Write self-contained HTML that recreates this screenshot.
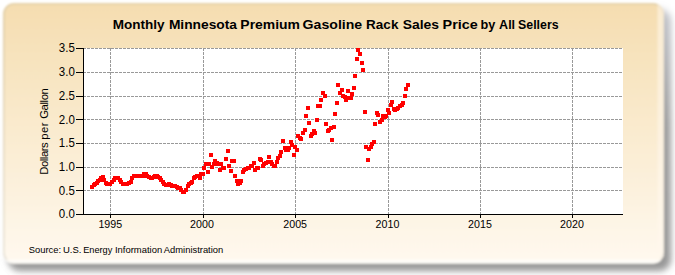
<!DOCTYPE html>
<html><head><meta charset="utf-8"><style>
html,body{margin:0;padding:0;background:#fff;width:675px;height:275px;overflow:hidden}
svg{position:absolute;left:0;top:0;display:block}
text{font-family:"Liberation Sans",sans-serif;fill:#000}
</style></head><body>
<svg width="675" height="275" viewBox="0 0 675 275">
<defs>
<linearGradient id="bg" x1="0" y1="0" x2="0" y2="1">
<stop offset="0" stop-color="#f5ddb0"/>
<stop offset="1" stop-color="#fff9ef"/>
</linearGradient>
<filter id="sh" x="-5%" y="-5%" width="110%" height="110%"><feGaussianBlur stdDeviation="3"/></filter>
<filter id="soft" x="-5%" y="-5%" width="110%" height="110%"><feGaussianBlur stdDeviation="1.1"/></filter>
<linearGradient id="shg" x1="0" y1="0" x2="0" y2="1">
<stop offset="0" stop-color="#c4c6cc"/>
<stop offset="0.45" stop-color="#9c9c9c"/>
<stop offset="1" stop-color="#979797"/>
</linearGradient>
<clipPath id="pclip"><rect x="3" y="3" width="661" height="260.5" rx="11"/></clipPath>
</defs>
<g filter="url(#soft)">
<rect x="8" y="9" width="663" height="262" rx="12" fill="url(#shg)" filter="url(#sh)"/>
<rect x="3" y="3" width="661" height="260.5" rx="11" fill="url(#bg)"/>
<rect x="4" y="4" width="659" height="258.5" rx="10" fill="none" stroke="#9c9a90" stroke-opacity="0.3" stroke-width="1.2"/>
<g clip-path="url(#pclip)">
<rect x="657.5" y="0" width="10" height="275" fill="#fff8ec" opacity="0.55"/>
<rect x="0" y="259.5" width="675" height="5" fill="#fffdf8" opacity="0.9"/>
</g>
</g>
<rect x="84" y="48" width="539" height="166" fill="#fff"/>
<g stroke="#999999" stroke-width="1" stroke-dasharray="3,1" stroke-dashoffset="1" fill="none">
<line x1="84" y1="48.5" x2="623" y2="48.5"/><line x1="84" y1="72.5" x2="623" y2="72.5"/><line x1="84" y1="96.5" x2="623" y2="96.5"/><line x1="84" y1="119.5" x2="623" y2="119.5"/><line x1="84" y1="143.5" x2="623" y2="143.5"/><line x1="84" y1="167.5" x2="623" y2="167.5"/><line x1="84" y1="190.5" x2="623" y2="190.5"/>
</g>
<g stroke="#999999" stroke-width="1" stroke-dasharray="3,1" fill="none">
<line x1="110.5" y1="48" x2="110.5" y2="214"/><line x1="203.5" y1="48" x2="203.5" y2="214"/><line x1="295.5" y1="48" x2="295.5" y2="214"/><line x1="388.5" y1="48" x2="388.5" y2="214"/><line x1="480.5" y1="48" x2="480.5" y2="214"/><line x1="572.5" y1="48" x2="572.5" y2="214"/>
</g>
<g fill="#000" shape-rendering="crispEdges">
<rect x="83" y="48" width="1" height="167"/>
<rect x="76" y="214" width="547" height="1"/>
<rect x="76" y="214" width="8" height="1"/><rect x="76" y="190" width="8" height="1"/><rect x="76" y="167" width="8" height="1"/><rect x="76" y="143" width="8" height="1"/><rect x="76" y="119" width="8" height="1"/><rect x="76" y="96" width="8" height="1"/><rect x="76" y="72" width="8" height="1"/><rect x="76" y="48" width="8" height="1"/>
<rect x="110" y="214" width="1" height="4"/><rect x="203" y="214" width="1" height="4"/><rect x="295" y="214" width="1" height="4"/><rect x="388" y="214" width="1" height="4"/><rect x="480" y="214" width="1" height="4"/><rect x="572" y="214" width="1" height="4"/>
</g>
<g font-size="12.8">
<text x="58.85" y="218.42" textLength="16.01" lengthAdjust="spacingAndGlyphs">0.0</text><text x="58.85" y="194.70" textLength="16.01" lengthAdjust="spacingAndGlyphs">0.5</text><text x="58.85" y="170.99" textLength="16.01" lengthAdjust="spacingAndGlyphs">1.0</text><text x="58.85" y="147.27" textLength="16.01" lengthAdjust="spacingAndGlyphs">1.5</text><text x="58.85" y="123.56" textLength="16.01" lengthAdjust="spacingAndGlyphs">2.0</text><text x="58.85" y="99.85" textLength="16.01" lengthAdjust="spacingAndGlyphs">2.5</text><text x="58.85" y="76.13" textLength="16.01" lengthAdjust="spacingAndGlyphs">3.0</text><text x="58.85" y="52.42" textLength="16.01" lengthAdjust="spacingAndGlyphs">3.5</text>
</g>
<g font-size="11.8">
<text x="98.42" y="227.5" textLength="23.75" lengthAdjust="spacingAndGlyphs">1995</text><text x="190.12" y="227.5" textLength="23.75" lengthAdjust="spacingAndGlyphs">2000</text><text x="283.32" y="227.5" textLength="23.75" lengthAdjust="spacingAndGlyphs">2005</text><text x="375.62" y="227.5" textLength="23.75" lengthAdjust="spacingAndGlyphs">2010</text><text x="468.12" y="227.5" textLength="23.75" lengthAdjust="spacingAndGlyphs">2015</text><text x="560.12" y="227.5" textLength="23.75" lengthAdjust="spacingAndGlyphs">2020</text>
</g>
<text x="112.72" y="29.0" font-size="13.6" font-weight="bold" textLength="51.88" lengthAdjust="spacingAndGlyphs">Monthly</text><text x="168.90" y="29.0" font-size="13.6" font-weight="bold" textLength="68.12" lengthAdjust="spacingAndGlyphs">Minnesota</text><text x="240.39" y="29.0" font-size="13.6" font-weight="bold" textLength="59.60" lengthAdjust="spacingAndGlyphs">Premium</text><text x="302.64" y="29.0" font-size="13.6" font-weight="bold" textLength="59.54" lengthAdjust="spacingAndGlyphs">Gasoline</text><text x="366.12" y="29.0" font-size="13.6" font-weight="bold" textLength="32.29" lengthAdjust="spacingAndGlyphs">Rack</text><text x="402.68" y="29.0" font-size="13.6" font-weight="bold" textLength="36.32" lengthAdjust="spacingAndGlyphs">Sales</text><text x="442.57" y="29.0" font-size="13.6" font-weight="bold" textLength="35.16" lengthAdjust="spacingAndGlyphs">Price</text><text x="480.47" y="29.0" font-size="13.6" font-weight="bold" textLength="14.81" lengthAdjust="spacingAndGlyphs">by</text><text x="499.09" y="29.0" font-size="13.6" font-weight="bold" textLength="16.03" lengthAdjust="spacingAndGlyphs">All</text><text x="518.03" y="29.0" font-size="13.6" font-weight="bold" textLength="40.57" lengthAdjust="spacingAndGlyphs">Sellers</text>
<g transform="translate(47.7,0) rotate(-90)"><text x="-174.80" y="0" font-size="11.3" font-weight="normal" textLength="32.55" lengthAdjust="spacing">Dollars</text><text x="-139.73" y="0" font-size="11.3" font-weight="normal" textLength="17.20" lengthAdjust="spacing">per</text><text x="-118.77" y="0" font-size="11.3" font-weight="normal" textLength="30.56" lengthAdjust="spacing">Gallon</text></g>
<text x="28.68" y="253.2" font-size="9.8" font-weight="normal" textLength="32.38" lengthAdjust="spacingAndGlyphs">Source:</text><text x="62.99" y="253.2" font-size="9.8" font-weight="normal" textLength="18.47" lengthAdjust="spacingAndGlyphs">U.S.</text><text x="83.16" y="253.2" font-size="9.8" font-weight="normal" textLength="29.17" lengthAdjust="spacingAndGlyphs">Energy</text><text x="114.95" y="253.2" font-size="9.8" font-weight="normal" textLength="47.19" lengthAdjust="spacingAndGlyphs">Information</text><text x="163.85" y="253.2" font-size="9.8" font-weight="normal" textLength="59.36" lengthAdjust="spacingAndGlyphs">Administration</text>
<g fill="#ff0000" shape-rendering="crispEdges">
<rect x="90" y="185" width="4" height="4"/><rect x="92" y="183" width="4" height="4"/><rect x="93" y="182" width="4" height="4"/><rect x="95" y="181" width="4" height="4"/><rect x="96" y="179" width="4" height="4"/><rect x="98" y="178" width="4" height="4"/><rect x="99" y="176" width="4" height="4"/><rect x="101" y="175" width="4" height="4"/><rect x="102" y="178" width="4" height="4"/><rect x="104" y="181" width="4" height="4"/><rect x="105" y="182" width="4" height="4"/><rect x="107" y="182" width="4" height="4"/><rect x="108" y="182" width="4" height="4"/><rect x="110" y="180" width="4" height="4"/><rect x="112" y="178" width="4" height="4"/><rect x="113" y="176" width="4" height="4"/><rect x="115" y="176" width="4" height="4"/><rect x="116" y="176" width="4" height="4"/><rect x="118" y="178" width="4" height="4"/><rect x="119" y="180" width="4" height="4"/><rect x="121" y="182" width="4" height="4"/><rect x="122" y="182" width="4" height="4"/><rect x="124" y="182" width="4" height="4"/><rect x="125" y="182" width="4" height="4"/><rect x="127" y="181" width="4" height="4"/><rect x="129" y="180" width="4" height="4"/><rect x="130" y="176" width="4" height="4"/><rect x="132" y="174" width="4" height="4"/><rect x="133" y="174" width="4" height="4"/><rect x="135" y="174" width="4" height="4"/><rect x="136" y="174" width="4" height="4"/><rect x="138" y="174" width="4" height="4"/><rect x="139" y="174" width="4" height="4"/><rect x="141" y="174" width="4" height="4"/><rect x="142" y="172" width="4" height="4"/><rect x="144" y="172" width="4" height="4"/><rect x="145" y="174" width="4" height="4"/><rect x="147" y="175" width="4" height="4"/><rect x="149" y="176" width="4" height="4"/><rect x="150" y="176" width="4" height="4"/><rect x="152" y="175" width="4" height="4"/><rect x="153" y="174" width="4" height="4"/><rect x="155" y="174" width="4" height="4"/><rect x="156" y="175" width="4" height="4"/><rect x="158" y="176" width="4" height="4"/><rect x="159" y="178" width="4" height="4"/><rect x="161" y="180" width="4" height="4"/><rect x="162" y="182" width="4" height="4"/><rect x="164" y="183" width="4" height="4"/><rect x="165" y="183" width="4" height="4"/><rect x="167" y="182" width="4" height="4"/><rect x="169" y="183" width="4" height="4"/><rect x="170" y="184" width="4" height="4"/><rect x="172" y="184" width="4" height="4"/><rect x="173" y="184" width="4" height="4"/><rect x="175" y="185" width="4" height="4"/><rect x="176" y="186" width="4" height="4"/><rect x="178" y="186" width="4" height="4"/><rect x="179" y="188" width="4" height="4"/><rect x="181" y="190" width="4" height="4"/><rect x="182" y="190" width="4" height="4"/><rect x="184" y="188" width="4" height="4"/><rect x="186" y="184" width="4" height="4"/><rect x="187" y="182" width="4" height="4"/><rect x="189" y="181" width="4" height="4"/><rect x="190" y="180" width="4" height="4"/><rect x="192" y="176" width="4" height="4"/><rect x="193" y="175" width="4" height="4"/><rect x="195" y="174" width="4" height="4"/><rect x="196" y="174" width="4" height="4"/><rect x="198" y="176" width="4" height="4"/><rect x="199" y="172" width="4" height="4"/><rect x="201" y="172" width="4" height="4"/><rect x="202" y="166" width="4" height="4"/><rect x="204" y="162" width="4" height="4"/><rect x="206" y="170" width="4" height="4"/><rect x="207" y="162" width="4" height="4"/><rect x="209" y="153" width="4" height="4"/><rect x="210" y="165" width="4" height="4"/><rect x="212" y="162" width="4" height="4"/><rect x="213" y="159" width="4" height="4"/><rect x="215" y="161" width="4" height="4"/><rect x="216" y="162" width="4" height="4"/><rect x="218" y="168" width="4" height="4"/><rect x="219" y="162" width="4" height="4"/><rect x="221" y="166" width="4" height="4"/><rect x="222" y="166" width="4" height="4"/><rect x="224" y="157" width="4" height="4"/><rect x="226" y="149" width="4" height="4"/><rect x="227" y="164" width="4" height="4"/><rect x="229" y="169" width="4" height="4"/><rect x="230" y="159" width="4" height="4"/><rect x="232" y="159" width="4" height="4"/><rect x="233" y="174" width="4" height="4"/><rect x="235" y="179" width="4" height="4"/><rect x="236" y="182" width="4" height="4"/><rect x="238" y="181" width="4" height="4"/><rect x="239" y="179" width="4" height="4"/><rect x="241" y="170" width="4" height="4"/><rect x="242" y="168" width="4" height="4"/><rect x="244" y="167" width="4" height="4"/><rect x="246" y="166" width="4" height="4"/><rect x="247" y="166" width="4" height="4"/><rect x="249" y="164" width="4" height="4"/><rect x="250" y="164" width="4" height="4"/><rect x="252" y="161" width="4" height="4"/><rect x="253" y="168" width="4" height="4"/><rect x="255" y="166" width="4" height="4"/><rect x="256" y="166" width="4" height="4"/><rect x="258" y="157" width="4" height="4"/><rect x="259" y="158" width="4" height="4"/><rect x="261" y="164" width="4" height="4"/><rect x="262" y="162" width="4" height="4"/><rect x="264" y="161" width="4" height="4"/><rect x="266" y="160" width="4" height="4"/><rect x="267" y="155" width="4" height="4"/><rect x="269" y="160" width="4" height="4"/><rect x="270" y="162" width="4" height="4"/><rect x="272" y="164" width="4" height="4"/><rect x="273" y="164" width="4" height="4"/><rect x="275" y="160" width="4" height="4"/><rect x="276" y="156" width="4" height="4"/><rect x="278" y="154" width="4" height="4"/><rect x="279" y="150" width="4" height="4"/><rect x="281" y="139" width="4" height="4"/><rect x="283" y="146" width="4" height="4"/><rect x="284" y="148" width="4" height="4"/><rect x="286" y="148" width="4" height="4"/><rect x="287" y="146" width="4" height="4"/><rect x="289" y="140" width="4" height="4"/><rect x="290" y="143" width="4" height="4"/><rect x="292" y="153" width="4" height="4"/><rect x="293" y="145" width="4" height="4"/><rect x="295" y="148" width="4" height="4"/><rect x="296" y="134" width="4" height="4"/><rect x="298" y="136" width="4" height="4"/><rect x="299" y="137" width="4" height="4"/><rect x="301" y="131" width="4" height="4"/><rect x="303" y="128" width="4" height="4"/><rect x="304" y="114" width="4" height="4"/><rect x="306" y="106" width="4" height="4"/><rect x="307" y="121" width="4" height="4"/><rect x="309" y="134" width="4" height="4"/><rect x="310" y="132" width="4" height="4"/><rect x="312" y="129" width="4" height="4"/><rect x="313" y="131" width="4" height="4"/><rect x="315" y="118" width="4" height="4"/><rect x="316" y="104" width="4" height="4"/><rect x="318" y="104" width="4" height="4"/><rect x="319" y="98" width="4" height="4"/><rect x="321" y="91" width="4" height="4"/><rect x="323" y="94" width="4" height="4"/><rect x="324" y="122" width="4" height="4"/><rect x="326" y="129" width="4" height="4"/><rect x="327" y="128" width="4" height="4"/><rect x="329" y="126" width="4" height="4"/><rect x="330" y="138" width="4" height="4"/><rect x="332" y="125" width="4" height="4"/><rect x="333" y="112" width="4" height="4"/><rect x="335" y="101" width="4" height="4"/><rect x="336" y="83" width="4" height="4"/><rect x="338" y="91" width="4" height="4"/><rect x="340" y="88" width="4" height="4"/><rect x="341" y="94" width="4" height="4"/><rect x="343" y="95" width="4" height="4"/><rect x="344" y="98" width="4" height="4"/><rect x="346" y="89" width="4" height="4"/><rect x="347" y="96" width="4" height="4"/><rect x="349" y="96" width="4" height="4"/><rect x="350" y="92" width="4" height="4"/><rect x="352" y="86" width="4" height="4"/><rect x="353" y="74" width="4" height="4"/><rect x="355" y="57" width="4" height="4"/><rect x="356" y="48" width="4" height="4"/><rect x="358" y="52" width="4" height="4"/><rect x="360" y="61" width="4" height="4"/><rect x="361" y="68" width="4" height="4"/><rect x="363" y="110" width="4" height="4"/><rect x="364" y="145" width="4" height="4"/><rect x="366" y="158" width="4" height="4"/><rect x="367" y="147" width="4" height="4"/><rect x="369" y="145" width="4" height="4"/><rect x="370" y="142" width="4" height="4"/><rect x="372" y="140" width="4" height="4"/><rect x="373" y="122" width="4" height="4"/><rect x="375" y="111" width="4" height="4"/><rect x="376" y="113" width="4" height="4"/><rect x="378" y="120" width="4" height="4"/><rect x="380" y="118" width="4" height="4"/><rect x="381" y="114" width="4" height="4"/><rect x="383" y="115" width="4" height="4"/><rect x="384" y="114" width="4" height="4"/><rect x="386" y="108" width="4" height="4"/><rect x="387" y="111" width="4" height="4"/><rect x="389" y="103" width="4" height="4"/><rect x="390" y="100" width="4" height="4"/><rect x="392" y="107" width="4" height="4"/><rect x="393" y="108" width="4" height="4"/><rect x="395" y="107" width="4" height="4"/><rect x="396" y="106" width="4" height="4"/><rect x="398" y="104" width="4" height="4"/><rect x="400" y="103" width="4" height="4"/><rect x="401" y="101" width="4" height="4"/><rect x="403" y="94" width="4" height="4"/><rect x="404" y="87" width="4" height="4"/><rect x="406" y="83" width="4" height="4"/>
</g>
</svg>
</body></html>
